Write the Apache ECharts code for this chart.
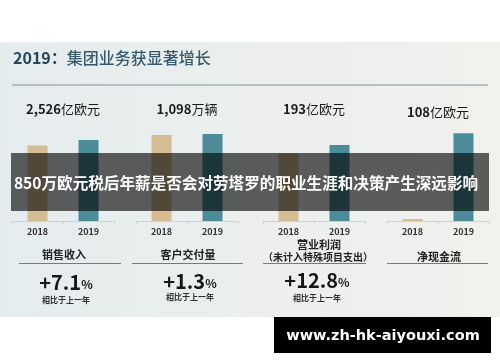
<!DOCTYPE html>
<html>
<head>
<meta charset="utf-8">
<script src="https://cdn.jsdelivr.net/npm/echarts@6/dist/echarts.min.js"></script>
<style>
html,body{margin:0;padding:0;background:#fff;}
#chart{width:500px;height:362px;}
</style>
</head>
<body>
<div id="chart"></div>
<script>
// ---- data ----
const years = ['2018', '2019'];
const revenue = [2358, 2526];      // 亿欧元
const deliveries = [1084, 1098];   // 万辆
const ebit = [171, 193];           // 亿欧元
const cashflow = [2.5, 108];       // 亿欧元
const headNumbers = ['2,526', '1,098', '193', '108'];
const headUnits = ['亿欧元', '万辆', '亿欧元', '亿欧元'];
const categoryNames = ['销售收入', '客户交付量', '营业利润', '净现金流'];
const categoryNote = '（未计入特殊项目支出）';
const growth = ['+7.1', '+1.3', '+12.8'];
const compareText = '相比于上一年';
const titleYear = '2019：';
const titleText = '集团业务获显著增长';
const bannerText = '850万欧元税后年薪是否会对劳塔罗的职业生涯和决策产生深远影响';
const siteText = 'www.zh-hk-aiyouxi.com';

const seriesData = [revenue, deliveries, ebit, cashflow];
const yMax = [3120, 1262, 254, 123];
const gridLefts = [12, 136, 263, 387];
const centers = gridLefts.map(l => l + 51);
const CJK = '"Noto Sans CJK SC", "Noto Sans", sans-serif';
const tan = '#d5bd93';
const teal = '#4b8c98';

const grids = [], xAxes = [], yAxes = [], series = [];
seriesData.forEach((d, i) => {
  grids.push({ left: gridLefts[i], width: 102, top: 121, height: 100 });
  xAxes.push({
    type: 'category', gridIndex: i, data: years,
    axisLine: { lineStyle: { color: '#cdd3d5', width: 1 } },
    axisTick: { show: true, length: 3, lineStyle: { color: '#cdd3d5' } },
    axisLabel: { color: '#333', fontSize: 9, fontWeight: 'bold', margin: 6, fontFamily: CJK }
  });
  yAxes.push({ type: 'value', gridIndex: i, min: 0, max: yMax[i], show: false, splitLine: { show: false } });
  series.push({
    type: 'bar', xAxisIndex: i, yAxisIndex: i, barWidth: 20,
    data: d.map((v, k) => ({ value: v, itemStyle: { color: k === 0 ? tan : teal } })),
    silent: true
  });
});

const graphics = [];
// panel background
graphics.push({
  type: 'rect', z: -10, silent: true,
  shape: { x: 0, y: 42, width: 500, height: 275 },
  style: { fill: { type: 'linear', x: 0, y: 0, x2: 1, y2: 0,
    colorStops: [{ offset: 0, color: '#e5ecee' }, { offset: 1, color: '#f1f1ed' }] } }
});
// title
graphics.push({
  type: 'text', left: 13, top: 50, z: 5,
  style: {
    text: '{a|' + titleYear + '}{b|' + titleText + '}',
    rich: {
      a: { fontSize: 16, fontWeight: 'bold', fill: '#27485a', fontFamily: CJK },
      b: { fontSize: 16, fontWeight: 500, fill: '#365a6b', fontFamily: CJK }
    }
  }
});
graphics.push({ type: 'line', z: 5, shape: { x1: 12, y1: 85, x2: 488, y2: 85 }, style: { stroke: '#7d939b', lineWidth: 1 } });

// heading values
const headY = [109, 109, 109, 112];
headNumbers.forEach((n, i) => {
  graphics.push({
    type: 'text', z: 5, x: centers[i], y: headY[i],
    style: {
      text: '{n|' + n + '}{u|' + headUnits[i] + '}',
      align: 'center', verticalAlign: 'middle',
      rich: {
        n: { fontSize: 13, fontWeight: 'bold', fill: '#1b1b1b', fontFamily: CJK },
        u: { fontSize: 13, fontWeight: 'normal', fill: '#1b1b1b', fontFamily: CJK }
      }
    }
  });
});

// category names & underlines
const nameY = [255, 255, 245, 257];
categoryNames.forEach((n, i) => {
  graphics.push({
    type: 'text', z: 5, x: centers[i] + (i === 2 ? 5 : 1), y: nameY[i],
    style: { text: n, align: 'center', verticalAlign: 'middle', fontSize: 11, fontWeight: 'bold', fill: '#222', fontFamily: CJK }
  });
});
graphics.push({
  type: 'text', z: 5, x: 318, y: 257,
  style: { text: categoryNote, align: 'center', verticalAlign: 'middle', fontSize: 10, fontWeight: 'bold', fill: '#222', fontFamily: CJK }
});
[[19, 121], [132, 243], [263, 366], [387, 488]].forEach(seg => {
  graphics.push({ type: 'line', z: 5, shape: { x1: seg[0], y1: 263.5, x2: seg[1], y2: 263.5 }, style: { stroke: '#6f7c80', lineWidth: 1 } });
});

// growth numbers
const growthX = [66, 190, 317];
const growthY = [282, 281, 280];
const compY = [300, 297, 298];
growth.forEach((g, i) => {
  graphics.push({
    type: 'text', z: 5, x: growthX[i], y: growthY[i],
    style: {
      text: '{g|' + g + '}{p|%}', align: 'center', verticalAlign: 'middle',
      rich: {
        g: { fontSize: 20, fontWeight: 'bold', fill: '#161616', fontFamily: CJK },
        p: { fontSize: 12, fontWeight: 'bold', fill: '#161616', fontFamily: CJK, padding: [5, 0, 0, 0] }
      }
    }
  });
  graphics.push({
    type: 'text', z: 5, x: growthX[i], y: compY[i],
    style: { text: compareText, align: 'center', verticalAlign: 'middle', fontSize: 8, fontWeight: 'bold', fill: '#333', fontFamily: CJK }
  });
});

// banner overlay
graphics.push({
  type: 'rect', z: 100, silent: true,
  shape: { x: 11, y: 153, width: 478, height: 58 },
  style: { fill: 'rgba(0,0,0,0.62)' }
});
graphics.push({
  type: 'text', z: 101, x: 246, y: 183,
  style: { text: bannerText, align: 'center', verticalAlign: 'middle', fontSize: 15.6, fontWeight: 'bold', fill: '#ffffff', fontFamily: CJK }
});

// site box
graphics.push({
  type: 'rect', z: 100, shape: { x: 274, y: 317, width: 217, height: 36 }, style: { fill: '#000' }
});
graphics.push({
  type: 'text', z: 101, x: 383, y: 336,
  style: { text: siteText, align: 'center', verticalAlign: 'middle', fontSize: 14.5, fontWeight: 'bold', fill: '#fff', fontFamily: '"DejaVu Sans", sans-serif' }
});

const chart = echarts.init(document.getElementById('chart'), null, { renderer: 'canvas' });
chart.setOption({
  backgroundColor: '#ffffff',
  animation: false,
  grid: grids,
  xAxis: xAxes,
  yAxis: yAxes,
  series: series,
  graphic: { elements: graphics }
});
</script>
</body>
</html>
